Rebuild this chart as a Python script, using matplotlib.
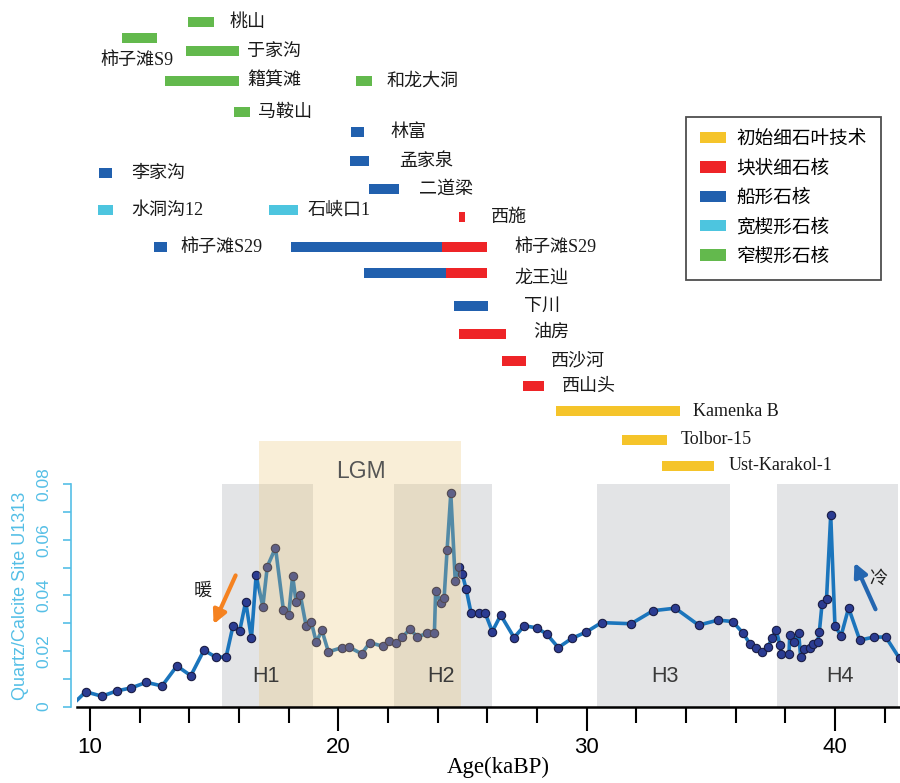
import matplotlib
matplotlib.use("Agg")
import matplotlib.pyplot as plt
from matplotlib.patches import Patch, Rectangle
from matplotlib.ticker import MultipleLocator, FormatStrFormatter

CJK = ['Liberation Serif', 'Noto Sans CJK SC']
SANS = ['Liberation Sans', 'DejaVu Sans']

# Quartz/Calcite record, Site U1313
age = [9.48, 9.83, 10.48, 11.07, 11.66, 12.27, 12.90, 13.50, 14.06, 14.59,
       15.06, 15.48, 15.76, 16.03, 16.27, 16.50, 16.69, 16.96, 17.14, 17.47,
       17.79, 18.00, 18.16, 18.30, 18.47, 18.70, 18.91, 19.11, 19.34, 19.60,
       20.15, 20.42, 20.94, 21.27, 21.79, 22.03, 22.33, 22.58, 22.89, 23.17,
       23.59, 23.87, 23.92, 24.12, 24.26, 24.38, 24.53, 24.71, 24.87, 24.99,
       25.15, 25.35, 25.67, 25.92, 26.20, 26.54, 27.08, 27.49, 27.99, 28.39,
       28.86, 29.40, 29.98, 30.60, 31.79, 32.68, 33.57, 34.51, 35.29, 35.88,
       36.31, 36.58, 36.82, 37.07, 37.31, 37.47, 37.63, 37.79, 37.84, 38.15,
       38.18, 38.34, 38.54, 38.62, 38.75, 39.00, 39.10, 39.30, 39.37, 39.48,
       39.66, 39.83, 40.00, 40.25, 40.55, 41.00, 41.57, 42.05, 42.60]
ratio = [0.0023, 0.0053, 0.0037, 0.0056, 0.0067, 0.0087, 0.0074, 0.0146, 0.0111, 0.0203,
         0.0178, 0.0178, 0.0291, 0.0273, 0.0378, 0.0245, 0.0473, 0.0360, 0.0504, 0.0571,
         0.0346, 0.0330, 0.0470, 0.0376, 0.0401, 0.0291, 0.0305, 0.0232, 0.0274, 0.0197,
         0.0212, 0.0214, 0.0190, 0.0230, 0.0217, 0.0236, 0.0227, 0.0250, 0.0279, 0.0251,
         0.0263, 0.0266, 0.0417, 0.0373, 0.0390, 0.0563, 0.0767, 0.0451, 0.0502, 0.0477,
         0.0422, 0.0335, 0.0335, 0.0335, 0.0270, 0.0329, 0.0248, 0.0291, 0.0283, 0.0261,
         0.0212, 0.0245, 0.0268, 0.0302, 0.0298, 0.0345, 0.0354, 0.0293, 0.0311, 0.0306,
         0.0263, 0.0225, 0.0209, 0.0197, 0.0215, 0.0248, 0.0275, 0.0221, 0.0189, 0.0188,
         0.0258, 0.0233, 0.0263, 0.0177, 0.0206, 0.0209, 0.0225, 0.0231, 0.0267, 0.0369,
         0.0386, 0.0689, 0.0290, 0.0255, 0.0355, 0.0239, 0.0250, 0.0250, 0.0173]

# Heinrich events and LGM (ka)
h_names = ['H1', 'H2', 'H3', 'H4']
h_start = [15.32, 22.26, 30.40, 37.66]
h_end = [18.99, 26.17, 35.77, 42.54]
h_text_x = [17.08, 24.14, 33.17, 40.21]
lgm = (16.81, 24.96)

# sites (top panel)
site_names = ['桃山', '柿子滩S9', '于家沟', '籍箕滩', '和龙大洞', '马鞍山', '林富',
              '孟家泉', '李家沟', '二道梁', '水洞沟12', '石峡口1', '西施', '柿子滩S29',
              '柿子滩S29', '龙王辿', '下川', '油房', '西沙河', '西山头',
              'Kamenka B', 'Tolbor-15', 'Ust-Karakol-1']
# segments: site index, start ka, end ka, technology
seg_site = [0, 1, 2, 3, 4, 5, 6, 7, 8, 9, 10, 11, 12, 13, 14, 14, 15, 15,
            16, 17, 18, 19, 20, 21, 22]
seg_start = [13.96, 11.28, 13.85, 13.02, 20.71, 15.81, 20.52, 20.47, 10.36, 21.22,
             10.33, 17.22, 24.87, 12.58, 18.10, 24.19, 21.02, 24.33,
             24.67, 24.87, 26.58, 27.45, 28.76, 31.43, 33.04]
seg_end = [15.00, 12.70, 16.00, 15.99, 21.35, 16.44, 21.02, 21.24, 10.90, 22.43,
           10.93, 18.39, 25.09, 13.11, 24.19, 25.99, 24.33, 26.00,
           26.03, 26.75, 27.56, 28.30, 33.77, 33.23, 35.14]
seg_type = ['narrow', 'narrow', 'narrow', 'narrow', 'narrow', 'narrow', 'boat',
            'boat', 'boat', 'boat', 'wide', 'wide', 'block', 'boat', 'boat', 'block',
            'boat', 'block', 'boat', 'block', 'block', 'block',
            'initial', 'initial', 'initial']

tech_keys = ['initial', 'block', 'boat', 'wide', 'narrow']
tech_labels = ['初始细石叶技术', '块状细石核', '船形石核', '宽楔形石核', '窄楔形石核']
tech_colors = {'initial': '#F5C42A', 'block': '#EE2427', 'boat': '#2160AE',
               'wide': '#4DC5DF', 'narrow': '#63B94D'}

# layout of the top panel (pixel rows from the top, label x in ka)
row_y = [22, 38, 51, 81, 81, 112, 132, 161, 173, 189, 210, 210, 217, 247, 247,
         273, 306, 334, 361, 386, 411, 440, 466]
label_x = [15.60, 10.40, 16.32, 16.32, 21.96, 16.77, 22.12, 22.44, 11.68, 23.25,
           11.68, 18.78, 26.14, 13.62, 27.08, 27.08, 27.48, 27.84, 28.55, 29.00,
           34.30, 33.80, 35.71]
label_y = list(row_y)
label_y[1] = 60
label_y[15] = 278
label_y[17] = 332

xlim = (9.476, 42.62)
blue_txt = '#55BFE6'

fig = plt.figure(figsize=(9, 7.83), dpi=100)

# ---- top panel: site ranges
ax_top = fig.add_axes([77 / 900, 0, 823 / 900, 1])
ax_top.set_xlim(xlim)
ax_top.set_ylim(783, 0)
ax_top.axis('off')
for s, a, b, t in zip(seg_site, seg_start, seg_end, seg_type):
    ax_top.barh(row_y[s], b - a, left=a, height=10.5, color=tech_colors[t],
                edgecolor='none')
for name, lx, ly in zip(site_names, label_x, label_y):
    ax_top.text(lx, ly, name, ha='left', va='center', fontsize=13,
                family=CJK, color='#1a1a1a')

handles = [Patch(facecolor=tech_colors[k], edgecolor='none') for k in tech_keys]
leg = fig.legend(handles, tech_labels, loc='upper left',
                 bbox_to_anchor=(686 / 900, 1 - 117 / 783), borderaxespad=0,
                 prop={'family': CJK, 'size': 13.4}, frameon=True, fancybox=False,
                 edgecolor='#222222', handlelength=1.4, handleheight=0.55,
                 handletextpad=0.55, labelspacing=0.64, borderpad=0.75)
leg.get_frame().set_linewidth(1.3)

# ---- bottom panel: quartz/calcite
ax = fig.add_axes([77 / 900, 76.5 / 783, 823 / 900, 222.2 / 783])
ax.set_facecolor('none')
ax.set_xlim(xlim)
ax.set_ylim(0, 0.08)

for a, b in zip(h_start, h_end):
    ax.axvspan(a, b, ymin=0, ymax=1, color='#E3E4E6', lw=0, zorder=0)
ax.add_patch(Rectangle((lgm[0], 0), lgm[1] - lgm[0], 0.0955,
                       facecolor=(235 / 255, 195 / 255, 110 / 255),
                       alpha=0.27, lw=0, zorder=5, clip_on=False))

ax.plot(age, ratio, color='#1B75BC', lw=2.6, zorder=3, solid_joinstyle='round',
        marker='o', ms=6, mfc='#2B3C92', mec='#1a1d45', mew=0.8,
        markevery=list(range(1, len(age))))

for name, hx in zip(h_names, h_text_x):
    ax.text(hx, 0.0107, name, ha='center', va='center', fontsize=15.5,
            family=SANS, color='#3a3a3a', zorder=6)
ax.text(20.91, 0.0847, 'LGM', ha='center', va='center', fontsize=16.5,
        family=SANS, color='#555555', zorder=6, clip_on=False)

# warm / cold arrows
ax.annotate('', xy=(14.93, 0.0287), xytext=(15.91, 0.0481),
            arrowprops=dict(arrowstyle='-|>,head_length=0.8,head_width=0.4',
                            color='#F58220', lw=3), zorder=6)
ax.text(14.55, 0.0415, '暖', ha='center', va='center', fontsize=13,
        family=CJK, color='#222222')
ax.annotate('', xy=(40.74, 0.0527), xytext=(41.68, 0.0341),
            arrowprops=dict(arrowstyle='-|>,head_length=0.8,head_width=0.4',
                            color='#2466B0', lw=3), zorder=6)
ax.text(41.74, 0.0459, '冷', ha='center', va='center', fontsize=13,
        family=CJK, color='#222222')

# axes styling
for side in ['top', 'right']:
    ax.spines[side].set_visible(False)
ax.spines['bottom'].set_linewidth(1.8)
ax.spines['bottom'].set_zorder(7)
ax.spines['left'].set_position(('outward', 4.3))
ax.spines['left'].set_bounds(0, 0.08)
ax.spines['left'].set_color(blue_txt)
ax.spines['left'].set_linewidth(1.2)

ax.xaxis.set_major_locator(MultipleLocator(10))
ax.xaxis.set_minor_locator(MultipleLocator(2))
ax.tick_params(axis='x', which='major', direction='out', length=17, width=1.5,
               pad=5, labelsize=16, colors='black')
ax.tick_params(axis='x', which='minor', direction='out', length=11.5, width=1.5)
for lab in ax.get_xticklabels():
    lab.set_family(SANS)

ax.yaxis.set_major_locator(MultipleLocator(0.02))
ax.yaxis.set_minor_locator(MultipleLocator(0.01))
ax.yaxis.set_major_formatter(FormatStrFormatter('%g'))
ax.tick_params(axis='y', which='both', direction='out', length=5.5, width=1.2,
               color=blue_txt, labelcolor=blue_txt)
ax.tick_params(axis='y', which='major', labelsize=12.5, labelrotation=90, pad=9)
for lab in ax.get_yticklabels():
    lab.set_family(SANS)
    lab.set_va('center')

ax.set_ylabel('Quartz/Calcite Site U1313', color=blue_txt, fontsize=13,
              family=SANS)
ax.yaxis.set_label_coords(-0.058, 0.5)
ax.set_xlabel('Age(kaBP)', fontsize=16.5, family=['Liberation Serif'])
ax.xaxis.set_label_coords(0.512, -0.228)

fig.savefig('out.png', dpi=100)
